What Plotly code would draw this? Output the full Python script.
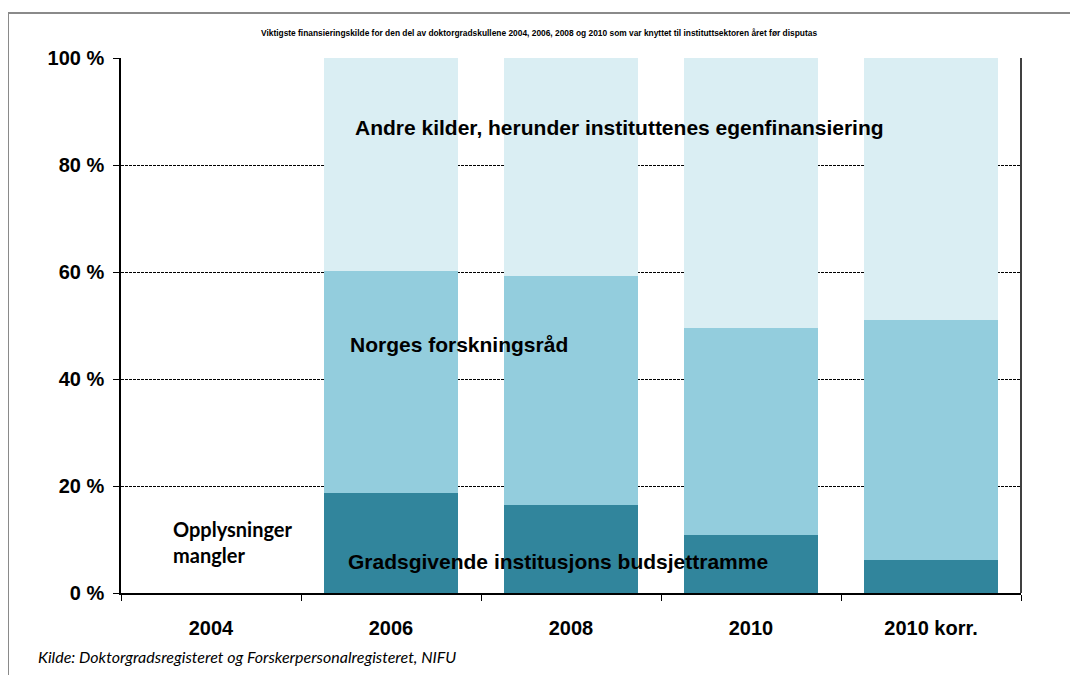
import plotly.graph_objects as go

categories = ["2004", "2006", "2008", "2010", "2010 korr."]
gradsgivende = [None, 18.7, 16.4, 10.8, 6.1]
forskningsrad = [None, 41.5, 42.8, 38.7, 44.9]
andre = [None, 39.8, 40.8, 50.5, 49.0]
y_tickvals = [0, 20, 40, 60, 80, 100]
y_ticktext = ["0 %", "20 %", "40 %", "60 %", "80 %", "100 %"]

series = [
    ("Gradsgivende institusjons budsjettramme", gradsgivende, "#31859C"),
    ("Norges forskningsråd", forskningsrad, "#93CDDD"),
    ("Andre kilder, herunder instituttenes egenfinansiering", andre, "#DAEEF3"),
]

fig = go.Figure()
for name, vals, col in series:
    fig.add_trace(go.Bar(x=categories, y=vals, name=name, marker=dict(color=col, line=dict(width=0))))

# page has an 8px body margin; work in page coordinates and convert
OFF = 8
W, H = 1078 - OFF, 675 - OFF
PL, PR, PT, PB = 121, 1021, 58, 593  # plot area in page pixels
L, T = PL - OFF, PT - OFF
R = W - (PR - OFF)
B = H - (PB - OFF)
pw, ph = PR - PL, PB - PT

def px(x):
    return (x - PL) / pw

def py(y):
    return (PB - y) / ph

bold = lambda s: "<b>" + s + "</b>"

fig.update_layout(
    width=W, height=H,
    barmode="stack", bargap=0.26,
    showlegend=False,
    paper_bgcolor="white", plot_bgcolor="white",
    margin=dict(l=L, r=R, t=T, b=B, pad=0),
    font=dict(family="Liberation Sans, Arial, sans-serif", color="black"),
)
fig.update_xaxes(
    type="category", tickson="boundaries", ticks="outside", ticklen=6, tickcolor="black",
    showline=True, linecolor="black", linewidth=1.5,
    tickvals=categories, ticktext=[bold(c) for c in categories],
    tickfont=dict(size=20, family="Liberation Sans, Arial, sans-serif", color="black"),
    ticklabelstandoff=16,
    showgrid=False, range=[-0.5, 4.5],
)
fig.update_yaxes(
    range=[0, 100], tickvals=y_tickvals, ticktext=[bold(t) for t in y_ticktext],
    ticks="outside", ticklen=6, tickcolor="black",
    showline=True, linecolor="black", linewidth=1.5,
    showgrid=True, gridcolor="black", gridwidth=0.8, griddash="3px,1px",
    tickfont=dict(size=20, family="Liberation Sans, Arial, sans-serif", color="black"),
    ticklabelstandoff=5,
    zeroline=False,
)

ann_font = dict(size=21, family="Liberation Sans, Arial, sans-serif", color="black")
fig.add_annotation(x=2.272, y=87.1, xref="x", yref="y", text=bold(series[2][0]),
                   showarrow=False, font=ann_font, xanchor="center", yanchor="middle")
fig.add_annotation(x=0.761, y=46.4, xref="x", yref="y", text=bold(series[1][0]),
                   showarrow=False, font=ann_font, xanchor="left", yanchor="middle")
fig.add_annotation(x=0.75, y=5.8, xref="x", yref="y", text=bold(series[0][0]),
                   showarrow=False, font=ann_font, xanchor="left", yanchor="middle")
fig.add_annotation(x=-0.222, y=9.5, xref="x", yref="y", text=bold("Opplysninger<br>mangler"),
                   showarrow=False, align="left", xanchor="left", yanchor="middle",
                   font=dict(size=20, family="Lato, Open Sans, sans-serif", color="black"))

fig.add_annotation(x=px(539), y=py(33), xref="paper", yref="paper",
                   text=bold("Viktigste finansieringskilde for den del av doktorgradskullene 2004, 2006, 2008 og 2010 som var knyttet til instituttsektoren året før disputas"),
                   showarrow=False, xanchor="center", yanchor="middle",
                   font=dict(size=8.4, family="Liberation Sans, Arial, sans-serif", color="black"))
fig.add_annotation(x=px(36), y=py(656), xref="paper", yref="paper",
                   text="<i>Kilde: Doktorgradsregisteret og Forskerpersonalregisteret, NIFU</i>",
                   showarrow=False, xanchor="left", yanchor="middle",
                   font=dict(size=16, family="Lato, Open Sans, sans-serif", color="black"))

# right border of the plot area
fig.add_shape(type="line", xref="paper", yref="paper", x0=1, x1=1, y0=0, y1=1,
              line=dict(color="black", width=1.5))
# outer chart frame
fig.add_shape(type="rect", xref="paper", yref="paper",
              x0=px(8), y0=py(700), x1=px(1100), y1=py(13),
              line=dict(color="#8a8a8a", width=2), layer="below")

fig.write_html("out.html")
